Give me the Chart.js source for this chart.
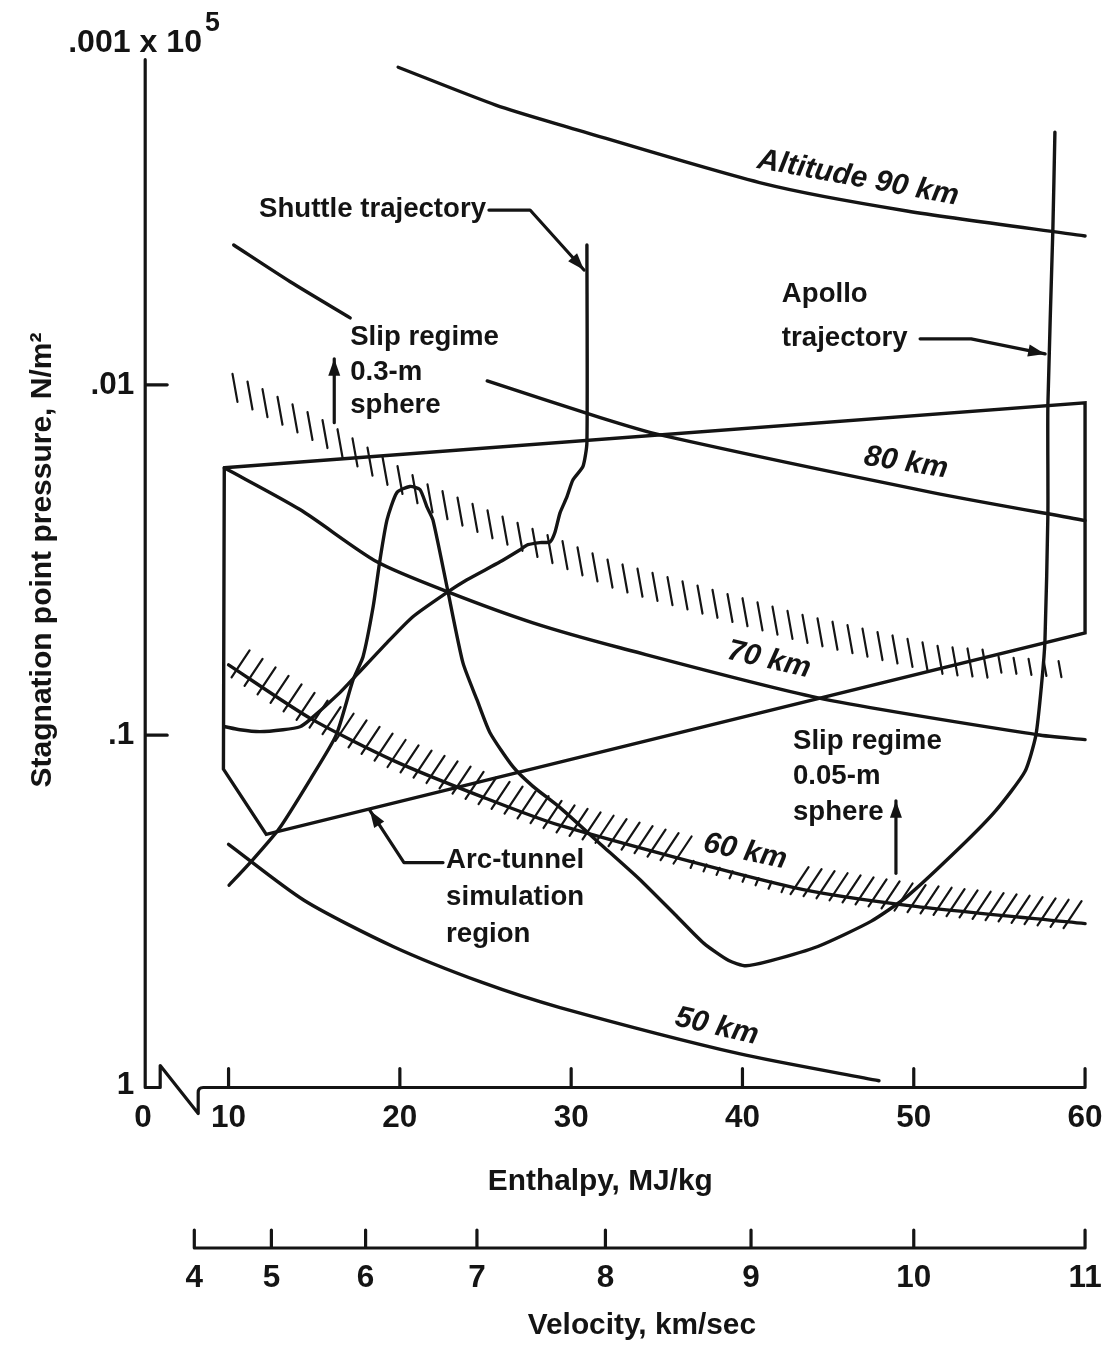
<!DOCTYPE html>
<html><head><meta charset="utf-8">
<script src="https://cdn.jsdelivr.net/npm/chart.js@4.4.1/dist/chart.umd.min.js"></script>
<style>html,body{margin:0;padding:0;background:#fff;}canvas{display:block;}</style>
</head><body>
<canvas id="c" width="1109" height="1345"></canvas>
<script>
// ---------------- data (enthalpy MJ/kg, stagnation pressure x10^5 N/m^2) ----------------
const alt90Enthalpy = [19.9, 25.6, 29.35, 41.3, 49.6, 60];
const alt90Pressure = [0.00124, 0.00159, 0.00181, 0.00267, 0.00319, 0.00376];

const alt80Enthalpy = [10.3, 13.6, 17.1, 21.0, 25.1, 31.7, 35.2, 51.1, 60];
const alt80Pressure = [0.00399, 0.00508, 0.00644, null, 0.00975, 0.0124, 0.0139, 0.0203, 0.0244];

const alt70Enthalpy = [9.75, 14.17, 18.66, 22.8, 27.77, 32.85, 44.35, 57.2, 60];
const alt70Pressure = [0.01725, 0.0227, 0.0320, 0.0390, 0.0478, 0.0563, 0.0781, 0.0997, 0.103];

const alt60Enthalpy = [10.0, 14.8, 19.6, 24.8, 29.35, 42.95, 49.6, 60];
const alt60Pressure = [0.0630, 0.0897, 0.118, 0.150, 0.181, 0.272, 0.306, 0.345];

const alt50Enthalpy = [10.0, 14.4, 19.6, 24.8, 29.35, 39.8, 47.97];
const alt50Pressure = [0.205, 0.296, 0.401, 0.508, 0.599, 0.811, 0.969];

const slip03Enthalpy = [10.2, 15.4, 21.9, 26.4, 32.6, 43.4, 51.7, 58.95];
const slip03Pressure = [0.0101, 0.0136, 0.0213, 0.0264, 0.0351, 0.0494, 0.0612, 0.065];

const arcEnthalpy = [9.75, 60, 60, 12.2, 9.7, 9.75];
const arcPressure = [0.01725, 0.01126, 0.0511, 0.192, 0.125, 0.01725];

const shuttleEnthalpy = [30.92, 30.92, 30.69, 30.1, 29.75, 29.35, 29.05, 28.76, 28.18, 27.48, 27.0, 25.85,
  23.92, 22.8, 20.76, 19.24, 17.49, 16.5, 14.75, 14.17, 13.18, 11.83, 10.66, 9.8];
const shuttlePressure = [0.00399, 0.0146, 0.0171, 0.0187, 0.0209, 0.0232, 0.0264, 0.0281, 0.0282, 0.0286, 0.0296, 0.0320,
  0.0360, 0.0390, 0.0459, 0.0545, 0.0672, 0.0756, 0.0903, 0.0946, 0.0965, 0.0977, 0.0965, 0.0946];

const apolloEnthalpy = [10.03, 11.37, 12.95, 14.8, 16.28, 17.27, 17.85, 18.44, 18.84, 19.25, 19.83, 20.59, 21.17,
  21.58, 21.93, 22.75, 23.68, 24.5, 25.26, 26.6, 27.77, 29.35, 31.68, 33.96, 36.06, 37.75, 39.2, 40.2, 41.67,
  44.4, 47.5, 49.6, 52.75, 54.8, 56.49, 57.13, 57.48, 57.66, 57.83, 57.83, 58.12, 58.24];
const apolloPressure = [0.268, 0.228, 0.185, 0.133, 0.100, 0.0695, 0.0597, 0.0430, 0.0316, 0.0243, 0.0203, 0.0195, 0.0199,
  0.0223, 0.0243, 0.0377, 0.0621, 0.0792, 0.0984, 0.123, 0.140, 0.161, 0.204, 0.257, 0.325, 0.393, 0.440, 0.455, 0.440,
  0.401, 0.340, 0.289, 0.208, 0.164, 0.127, 0.100, 0.070, 0.0535, 0.0235, 0.0114, 0.00361, 0.0019];

const yTickValues = [0.01, 0.1, 1];
const yTickLabels = ['.01', '.1', '1'];
const xTickValues = [5, 10, 20, 30, 40, 50, 60];          // "0" sits at the axis break
const xTickLabels = ['0', '10', '20', '30', '40', '50', '60'];
const velTickEnthalpy = [8, 12.5, 18, 24.5, 32, 40.5, 50, 60];
const velTickLabels = ['4', '5', '6', '7', '8', '9', '10', '11'];

// ---------------- annotations (placed in data coordinates) ----------------
const textNotes = [
  {t: 'Altitude 90 km', x: 46.75, y: 0.00257, rot: 10.5, align: 'center', km: true},
  {t: '80 km', x: 49.55, y: 0.0167, rot: 9, align: 'center', km: true},
  {t: '70 km', x: 41.55, y: 0.0610, rot: 13, align: 'center', km: true},
  {t: '60 km', x: 40.15, y: 0.215, rot: 12, align: 'center', km: true},
  {t: '50 km', x: 38.5, y: 0.679, rot: 13, align: 'center', km: true},
  {t: 'Shuttle trajectory', x: 11.78, y: 0.00315},
  {t: 'Slip regime', x: 17.1, y: 0.00734},
  {t: '0.3-m', x: 17.1, y: 0.00924},
  {t: 'sphere', x: 17.1, y: 0.01148},
  {t: 'Slip regime', x: 42.95, y: 0.1045},
  {t: '0.05-m', x: 42.95, y: 0.1313},
  {t: 'sphere', x: 42.95, y: 0.166},
  {t: 'Apollo', x: 42.3, y: 0.00553},
  {t: 'trajectory', x: 42.3, y: 0.00739},
  {t: 'Arc-tunnel', x: 22.7, y: 0.228},
  {t: 'simulation', x: 22.7, y: 0.291},
  {t: 'region', x: 22.7, y: 0.371}
];
const arrowNotes = [
  [[16.17, 0.01283], [16.17, 0.00843]],
  [[48.96, 0.248], [48.96, 0.154]],
  [[50.37, 0.00739], [53.35, 0.00739], [57.67, 0.00816]],
  [[25.2, 0.00317], [27.6, 0.00317], [30.75, 0.0047]],
  [[22.52, 0.231], [20.24, 0.231], [18.25, 0.164]]
];

// ---------------- fonts ----------------
const INK = '#141414';
const LABEL_FAMILY = '"Liberation Sans Narrow", "Liberation Sans", Arial, sans-serif';
const TICK_FAMILY = '"Liberation Sans", Arial, "DejaVu Sans", sans-serif';
const mctx = document.createElement('canvas').getContext('2d');
function fit(text, target, family, style) {
  mctx.font = style + ' 100px ' + family;
  return 100 * target / mctx.measureText(text).width;
}
const LBL = fit('Shuttle trajectory', 227, LABEL_FAMILY, 'bold');
const KM = fit('Altitude 90 km', 204, LABEL_FAMILY, 'italic bold');
const TTL = fit('Enthalpy, MJ/kg', 225, LABEL_FAMILY, 'bold');
const YTTL = fit('Stagnation point pressure, N/m²', 455, LABEL_FAMILY, 'bold');
const TCK = fit('10', 35, TICK_FAMILY, 'bold');

// ---------------- helpers ----------------
const pairs = (xs, ys) => xs.map((x, i) => ({x: x, y: ys[i]}));
function lineDs(label, xs, ys, extra) {
  return Object.assign({label: label, data: pairs(xs, ys), borderColor: INK, borderWidth: 3.4,
    pointRadius: 0, fill: false, tension: 0.25, borderCapStyle: 'round', borderJoinStyle: 'round'}, extra || {});
}
function interpY(pts, x) {
  for (let i = 0; i < pts.length - 1; i++) {
    const a = pts[i], b = pts[i + 1];
    if (x >= a.x && x <= b.x) { const t = (x - a.x) / ((b.x - a.x) || 1); return a.y + t * (b.y - a.y); }
  }
  return pts[pts.length - 1].y;
}
function drawArrow(ctx, pts) {
  ctx.beginPath();
  ctx.moveTo(pts[0].x, pts[0].y);
  for (let i = 1; i < pts.length; i++) ctx.lineTo(pts[i].x, pts[i].y);
  ctx.stroke();
  const a = pts[pts.length - 2], b = pts[pts.length - 1];
  const ang = Math.atan2(b.y - a.y, b.x - a.x), L = 17, W = 6;
  ctx.beginPath();
  ctx.moveTo(b.x, b.y);
  ctx.lineTo(b.x - L * Math.cos(ang) + W * Math.sin(ang), b.y - L * Math.sin(ang) - W * Math.cos(ang));
  ctx.lineTo(b.x - L * Math.cos(ang) - W * Math.sin(ang), b.y - L * Math.sin(ang) + W * Math.cos(ang));
  ctx.closePath();
  ctx.fill();
}
function drawText(ctx, t, x, y, font, align, rot) {
  ctx.save();
  ctx.translate(x, y);
  if (rot) ctx.rotate(rot * Math.PI / 180);
  ctx.font = font;
  ctx.textAlign = align || 'left';
  ctx.textBaseline = 'middle';
  ctx.fillText(t, 0, 0);
  ctx.restore();
}

const datasets = [
  lineDs('Altitude 90 km', alt90Enthalpy, alt90Pressure),
  lineDs('80 km', alt80Enthalpy, alt80Pressure),
  lineDs('70 km', alt70Enthalpy, alt70Pressure),
  lineDs('60 km', alt60Enthalpy, alt60Pressure, {hatch: 'slash', hatchGap: [37, 43]}),
  lineDs('50 km', alt50Enthalpy, alt50Pressure),
  lineDs('Slip regime 0.3-m sphere', slip03Enthalpy, slip03Pressure, {showLine: false, hatch: 'vertical'}),
  lineDs('Arc-tunnel simulation region', arcEnthalpy, arcPressure, {tension: 0, borderJoinStyle: 'miter'}),
  lineDs('Shuttle trajectory', shuttleEnthalpy, shuttlePressure, {tension: 0.2}),
  lineDs('Apollo trajectory', apolloEnthalpy, apolloPressure, {tension: 0.2})
];

const decor = {
  id: 'decor',
  afterDatasetsDraw(chart) {
    const ctx = chart.ctx, ca = chart.chartArea;
    const xs = chart.scales.x, ys = chart.scales.y, xv = chart.scales.xv;
    const X = v => xs.getPixelForValue(v), Y = v => ys.getPixelForValue(v);
    ctx.save();
    ctx.strokeStyle = INK; ctx.fillStyle = INK; ctx.lineCap = 'round'; ctx.lineJoin = 'round';

    // hatching
    chart.data.datasets.forEach((ds, i) => {
      if (!ds.hatch) return;
      const pts = chart.getDatasetMeta(i).data.filter(p => !p.skip && isFinite(p.y)).map(p => ({x: p.x, y: p.y}));
      ctx.lineWidth = 2.2;
      ctx.beginPath();
      if (ds.hatch === 'vertical') {
        for (let x = pts[0].x + 3; x <= pts[pts.length - 1].x; x += 15) {
          const y = interpY(pts, x), h = x > X(54.5) ? 8 : 14, d = 2.5 * h / 14;
          ctx.moveTo(x - d, y - h); ctx.lineTo(x + d, y + h);
        }
      } else {
        const g0 = X(ds.hatchGap[0]), g1 = X(ds.hatchGap[1]);
        for (let x = pts[0].x + 10; x <= pts[pts.length - 1].x - 2; x += 13) {
          const y = interpY(pts, x);
          if (x > g0 && x < g1) { ctx.moveTo(x - 3, y + 7); ctx.lineTo(x, y); }
          else { ctx.moveTo(x - 7, y + 6); ctx.lineTo(x + 11, y - 21); }
        }
      }
      ctx.stroke();
    });

    // axes with break
    ctx.lineWidth = 3.2;
    const x0 = ca.left + 4, yAx = ca.bottom + 2;
    ctx.beginPath();
    ctx.moveTo(x0, Y(0.00118)); ctx.lineTo(x0, yAx); ctx.lineTo(x0 + 15, yAx); ctx.lineTo(x0 + 15, yAx - 22);
    ctx.lineTo(x0 + 53, yAx + 26); ctx.lineTo(x0 + 53, yAx + 5);
    ctx.quadraticCurveTo(x0 + 53, yAx, x0 + 58, yAx);
    ctx.lineTo(X(60), yAx); ctx.lineTo(X(60), yAx - 19);
    xs.ticks.forEach(t => { if (t.value >= 10 && t.value < 60) { ctx.moveTo(X(t.value), yAx); ctx.lineTo(X(t.value), yAx - 19); } });
    ys.ticks.forEach(t => { if (t.value < 1) { ctx.moveTo(x0, Y(t.value)); ctx.lineTo(x0 + 22, Y(t.value)); } });
    ctx.stroke();

    const yv = ca.bottom + 162.5;
    const vt = xv.ticks.map(t => xv.getPixelForValue(t.value));
    ctx.beginPath();
    ctx.moveTo(vt[0], yv - 18); ctx.lineTo(vt[0], yv); ctx.lineTo(vt[vt.length - 1], yv); ctx.lineTo(vt[vt.length - 1], yv - 18);
    vt.slice(1, -1).forEach(px => { ctx.moveTo(px, yv); ctx.lineTo(px, yv - 18); });
    ctx.stroke();

    // axis titles
    drawText(ctx, 'Enthalpy, MJ/kg', X(31.7), ca.bottom + 96.5, 'bold ' + TTL + 'px ' + LABEL_FAMILY, 'center');
    drawText(ctx, 'Velocity, km/sec', X(34.13), ca.bottom + 240.5, 'bold ' + TTL + 'px ' + LABEL_FAMILY, 'center');

    // top-of-axis label ".001 x 10^5"
    const topFont = 'bold ' + (TCK * 1.02) + 'px ' + TICK_FAMILY;
    ctx.font = topFont;
    const mainTxt = '.001 x 10';
    const w = ctx.measureText(mainTxt).width;
    drawText(ctx, mainTxt, ca.left - 73, Y(0.001) + 9, topFont, 'left');
    drawText(ctx, '5', ca.left - 73 + w + 3, Y(0.001) - 11, 'bold ' + (TCK * 0.85) + 'px ' + TICK_FAMILY, 'left');

    // text notes
    textNotes.forEach(n => {
      const font = n.km ? ('italic bold ' + KM + 'px ' + LABEL_FAMILY) : ('bold ' + LBL + 'px ' + LABEL_FAMILY);
      drawText(ctx, n.t, X(n.x), Y(n.y), font, n.align || 'left', n.rot || 0);
    });

    // arrows
    ctx.lineWidth = 3.2;
    arrowNotes.forEach(a => drawArrow(ctx, a.map(p => ({x: X(p[0]), y: Y(p[1])}))));
    ctx.restore();
  }
};

const H1 = 120;
new Chart(document.getElementById('c').getContext('2d'), {
  type: 'line',
  data: {datasets: datasets},
  options: {
    responsive: false,
    animation: false,
    devicePixelRatio: 1,
    layout: {padding: {left: 0, right: 18.8, top: 34.5, bottom: 0}},
    plugins: {legend: {display: false}, tooltip: {enabled: false}},
    scales: {
      x: {
        type: 'linear', position: 'bottom', weight: 0, min: 4.9, max: 60.3,
        grid: {display: false, drawTicks: true, tickLength: 1118 - 1085.5 - 0.6 * TCK}, border: {display: false},
        afterBuildTicks: s => { s.ticks = xTickValues.map(v => ({value: v})); },
        ticks: {autoSkip: false, maxRotation: 0, color: INK, padding: 0,
          font: {family: TICK_FAMILY, size: TCK, weight: 'bold'},
          callback: (v, i) => xTickLabels[i]},
        afterFit: s => { s.height = H1; }
      },
      xv: {
        type: 'linear', position: 'bottom', weight: 1, min: 4.9, max: 60.3,
        grid: {display: false, drawTicks: true, tickLength: 1278 - (1085.5 + H1) - 0.6 * TCK}, border: {display: false},
        afterBuildTicks: s => { s.ticks = velTickEnthalpy.map(v => ({value: v})); },
        ticks: {autoSkip: false, maxRotation: 0, color: INK, padding: 0,
          font: {family: TICK_FAMILY, size: TCK, weight: 'bold'},
          callback: (v, i) => velTickLabels[i]},
        afterFit: s => { s.height = 1345 - 1085.5 - H1; }
      },
      y: {
        type: 'logarithmic', position: 'left', reverse: true, min: 0.001, max: 1,
        grid: {display: false, drawTicks: false}, border: {display: false},
        afterBuildTicks: s => { s.ticks = yTickValues.map(v => ({value: v})); },
        ticks: {autoSkip: false, color: INK, padding: 7,
          font: {family: TICK_FAMILY, size: TCK, weight: 'bold'},
          callback: (v, i) => yTickLabels[i]},
        title: {display: true, text: 'Stagnation point pressure, N/m²', color: INK,
          font: {family: LABEL_FAMILY, size: YTTL, weight: 'bold'},
          padding: {top: 43 - 0.6 * YTTL, bottom: 0}},
        afterFit: s => { s.width = 141.2; }
      }
    }
  },
  plugins: [decor]
});
</script>
</body></html>
